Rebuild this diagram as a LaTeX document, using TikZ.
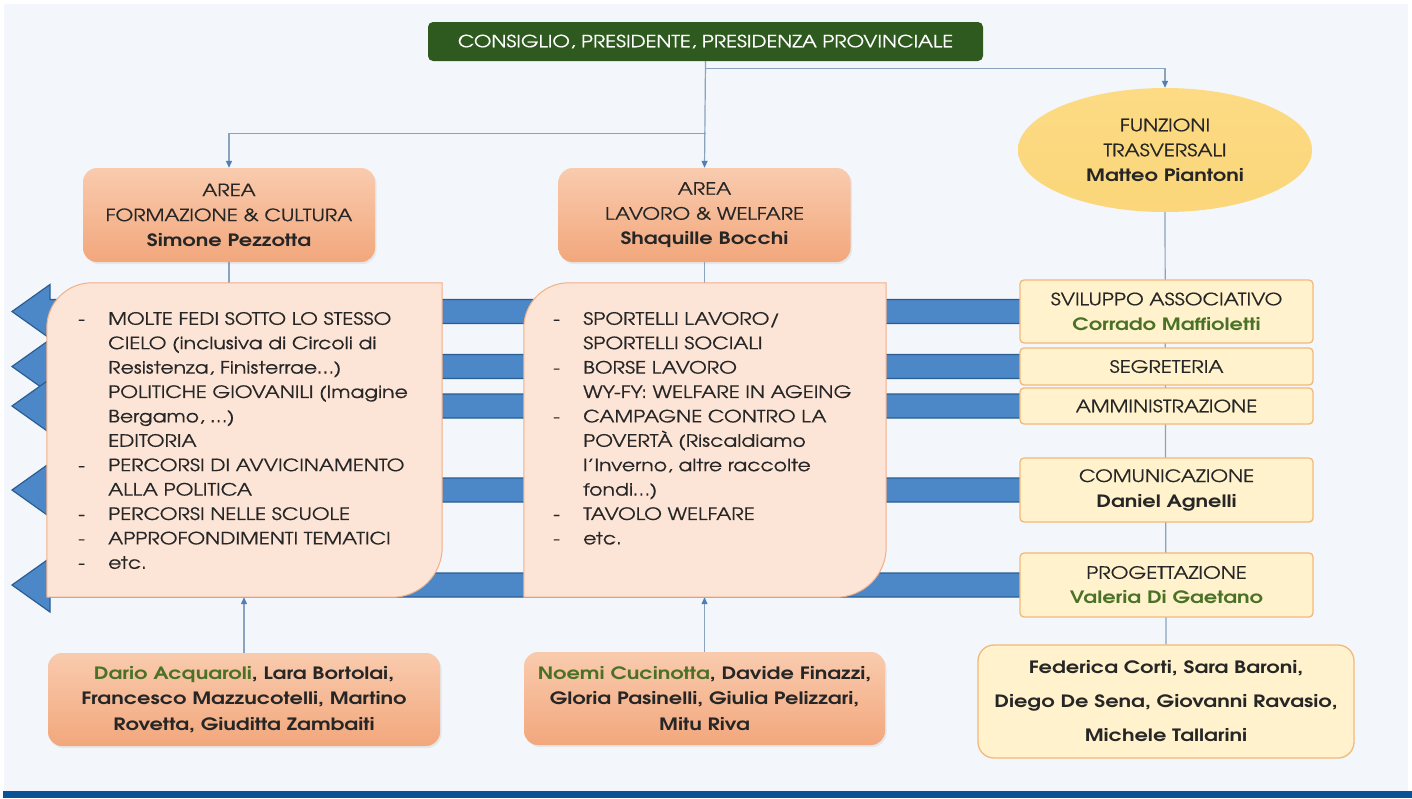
\documentclass[tikz,border=0pt]{standalone}
\usepackage{fontspec}
\setmainfont{texgyreadventor}[Extension=.otf, UprightFont=*-regular, BoldFont=*-bold,
  UprightFeatures={FakeStretch=1.2, FakeBold=0.5}, BoldFeatures={FakeStretch=1.23}]
\usetikzlibrary{shapes.geometric, calc, arrows.meta, shadows}
\definecolor{bgc}{HTML}{F3F6FA}
\definecolor{topg}{HTML}{2E5A1F}
\definecolor{salT}{HTML}{F9CBAE}
\definecolor{salB}{HTML}{F2A77C}
\definecolor{peach}{HTML}{FCE4D6}
\definecolor{peachln}{HTML}{F1B087}
\definecolor{ylw}{HTML}{FFF2CC}
\definecolor{ylwln}{HTML}{F3B978}
\definecolor{gold}{HTML}{FBD67A}
\definecolor{goldT}{HTML}{FCDB84}
\definecolor{blu}{HTML}{4C87C7}
\definecolor{bluln}{HTML}{2A5E93}
\definecolor{connc}{HTML}{8CA3BF}
\definecolor{tipc}{HTML}{4F7FB5}
\definecolor{txt}{HTML}{262626}
\definecolor{grn}{HTML}{4A7226}
\definecolor{band}{HTML}{0A5296}
\pgfdeclarelayer{bg}
\pgfdeclarelayer{back}
\pgfsetlayers{bg,back,main}
\begin{document}
\begin{tikzpicture}[x=1pt,y=-1pt,
  every node/.style={text=txt},
  basefont/.style={font=\fontsize{17}{25}\selectfont},
  topbox/.style={fill=topg, rounded corners=5pt, minimum width=555pt, minimum height=39pt, inner sep=0pt, text=white, font=\fontsize{16.8}{18}\selectfont},
  area/.style={basefont, rounded corners=14pt, top color=salT, bottom color=salB, draw=none, minimum width=292pt, minimum height=94pt, align=center, inner sep=0pt, drop shadow={opacity=0.12, shadow xshift=1.5pt, shadow yshift=-2pt}},
  people/.style={area, font=\bfseries\fontsize{17}{25.5}\selectfont},
  rbox/.style={basefont, rounded corners=4pt, fill=ylw, draw=ylwln, line width=1.3pt, minimum width=293pt, align=center, inner sep=0pt},
  conn/.style={draw=connc, line width=1.2pt},
  arr/.style={conn, -{Triangle[length=7pt,width=6pt,color=tipc]}},
  bluearrow/.style={fill=blu, draw=bluln, line width=1.2pt},
  peachbox/.style={fill=peach, draw=peachln, line width=1pt},
  listtext/.style={anchor=north west, inner sep=0pt, align=left, font=\fontsize{17}{24.4}\selectfont}
]
\begin{pgfonlayer}{bg}
\fill[white] (0,0) rectangle (1412,798);
\fill[bgc] (4,4) rectangle (1408,791);
\fill[band] (3,791) rectangle (1412,798);
\end{pgfonlayer}
\useasboundingbox (0,0) rectangle (1412,798);

\node[topbox] (top) at (705.5,41.5) {CONSIGLIO, PRESIDENTE, PRESIDENZA PROVINCIALE};
\node[area] (af) at (229,215) {AREA\\FORMAZIONE \& CULTURA\\\textbf{Simone Pezzotta}};
\node[area] (am) at (704.5,215) {AREA\\LAVORO \& WELFARE\\\textbf{Shaquille Bocchi}};
\node[ellipse, basefont, top color=goldT, bottom color=gold, minimum width=294pt, minimum height=124pt, align=center, inner sep=0pt] (fz) at (1165,150) {FUNZIONI\\TRASVERSALI\\\textbf{Matteo Piantoni}};

\node[minimum width=395pt, minimum height=314pt, inner sep=0pt] (cl) at (244.5,440) {};
\node[minimum width=362pt, minimum height=314pt, inner sep=0pt] (cm) at (705,440) {};

\node[rbox, minimum height=63pt] (sv) at (1166.5,311.5) {SVILUPPO ASSOCIATIVO\\\textcolor{grn}{\textbf{Corrado Maffioletti}}};
\node[rbox, minimum height=37pt] (sg) at (1166.5,366.5) {SEGRETERIA};
\node[rbox, minimum height=36pt] (amm) at (1166.5,406) {AMMINISTRAZIONE};
\node[rbox, minimum height=64pt] (co) at (1166.5,490) {COMUNICAZIONE\\\textbf{Daniel Agnelli}};
\node[rbox, minimum height=64pt] (pr) at (1166.5,585) {PROGETTAZIONE\\\textcolor{grn}{\textbf{Valeria Di Gaetano}}};

\node[people, minimum width=392pt, minimum height=93pt] (bl) at (244,699.5) {\textcolor{grn}{Dario Acquaroli}, Lara Bortolai,\\Francesco Mazzucotelli, Martino\\Rovetta, Giuditta Zambaiti};
\node[people, minimum width=361pt, minimum height=93pt] (bm) at (704.5,698.5) {\textcolor{grn}{Noemi Cucinotta}, Davide Finazzi,\\Gloria Pasinelli, Giulia Pelizzari,\\Mitu Riva};
\node[rbox, rounded corners=16pt, minimum width=376pt, minimum height=113pt, font=\bfseries\fontsize{17}{34}\selectfont] (fed) at (1166,701.5) {Federica Corti, Sara Baroni,\\Diego De Sena, Giovanni Ravasio,\\Michele Tallarini};

\foreach \c/\r in {cl/45, cm/45} {
  \draw[peachbox] (\c.south west) -- ($(\c.north west)+(0,\r)$)
    .. controls ($(\c.north west)+(0,0.447*\r)$) and ($(\c.north west)+(0.447*\r,0)$) .. ($(\c.north west)+(\r,0)$)
    -- (\c.north east) -- ($(\c.south east)+(0,-50)$)
    .. controls ($(\c.south east)+(0,-22.4)$) and ($(\c.south east)+(-22.4,0)$) .. ($(\c.south east)+(-50,0)$)
    -- cycle;
}

\node[listtext] (tl) at (78,307.5) {\begin{tabular}{@{}p{30pt}@{}l@{}}
-&MOLTE FEDI SOTTO LO STESSO\\
&CIELO (inclusiva di Circoli di\\
&Resistenza, Finisterrae…)\\
&POLITICHE GIOVANILI (Imagine\\
&Bergamo, …)\\
&EDITORIA\\
-&PERCORSI DI AVVICINAMENTO\\
&ALLA POLITICA\\
-&PERCORSI NELLE SCUOLE\\
-&APPROFONDIMENTI TEMATICI\\
-&etc.
\end{tabular}};
\node[listtext] (tm) at (553,307.5) {\begin{tabular}{@{}p{30pt}@{}l@{}}
-&SPORTELLI LAVORO/\\
&SPORTELLI SOCIALI\\
-&BORSE LAVORO\\
&WY-FY: WELFARE IN AGEING\\
-&CAMPAGNE CONTRO LA\\
&POVERTÀ (Riscaldiamo\\
&l’Inverno, altre raccolte\\
&fondi…)\\
-&TAVOLO WELFARE\\
-&etc.
\end{tabular}};

\begin{pgfonlayer}{back}
\coordinate (j1) at ($(top.south)+(0,72)$);
\coordinate (j2) at ($(top.south)+(0,7)$);
\draw[arr] (top.south) -- (am.north);
\draw[arr] (j1) -| (af.north);
\draw[arr] (j2) -| (fz.north);
\draw[conn] (af.south) -- (af.south |- cl.north);
\draw[conn] (am.south) -- (am.south |- cm.north);
\draw[arr] (bl.north) -- (bl.north |- cl.south);
\draw[arr] (bm.north) -- (bm.north |- cm.south);
\draw[conn] (fz.south) -- (fed.north);
\foreach \bx in {sv,sg,amm,co,pr} {
  \path[bluearrow] let \p1=(\bx.west) in
    (\x1+2pt,\y1+12pt) -- (50pt,\y1+12pt) -- (50pt,\y1+27pt) -- (12pt,\y1)
    -- (50pt,\y1-27pt) -- (50pt,\y1-12pt) -- (\x1+2pt,\y1-12pt) -- cycle;
}
\end{pgfonlayer}
\end{tikzpicture}
\end{document}
